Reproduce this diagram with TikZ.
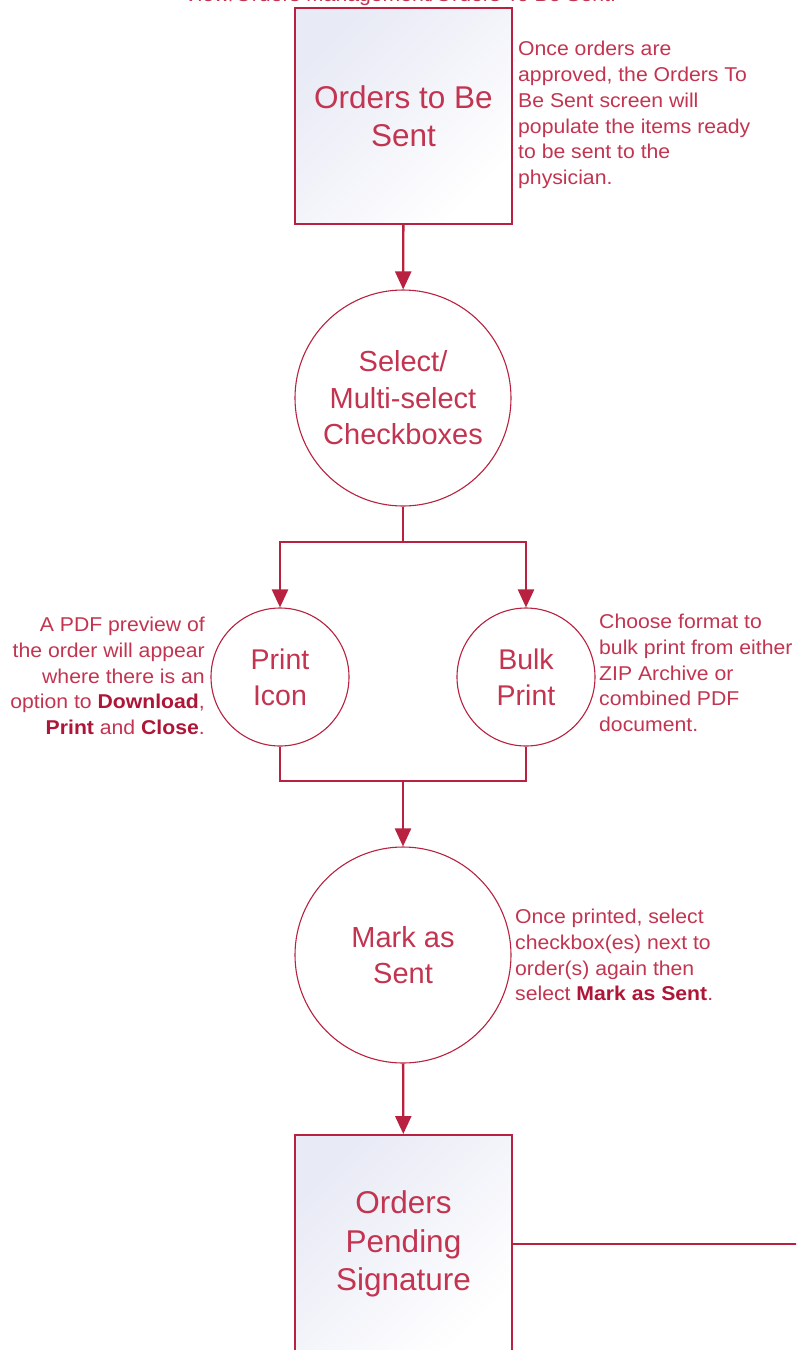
\documentclass[tikz,border=0pt]{standalone}
\usepackage{fontspec}
\setmainfont{Liberation Sans}
\newfontfamily\notefont[FakeStretch=1.06]{Liberation Sans}
\usetikzlibrary{arrows.meta}
\definecolor{crim}{HTML}{B8213F}
\definecolor{txt}{HTML}{C23450}
\definecolor{bld}{HTML}{AE1638}
\definecolor{lav}{HTML}{E8EAF5}
\tikzset{
  boxnode/.style={draw=crim,line width=2pt,minimum width=217pt,minimum height=216pt,inner sep=0pt,
    top color=lav,bottom color=white,shading angle=45,text=txt,align=center,
    font=\fontsize{31.5}{38.5}\selectfont},
  bigcirc/.style={draw=crim,line width=1.1pt,circle,minimum size=216pt,inner sep=0pt,fill=white,text=txt,align=center,
    font=\fontsize{29}{36.5}\selectfont},
  smallcirc/.style={draw=crim,line width=1.1pt,circle,minimum size=138pt,inner sep=0pt,fill=white,text=txt,align=center,
    font=\fontsize{28.5}{36}\selectfont},
  note/.style={text=txt,inner sep=0pt,font=\notefont\fontsize{20}{25.7}\selectfont},
  conn/.style={draw=crim,line width=2.4pt},
  arr/.style={conn,-{Triangle[length=18pt,width=16pt]}},
}
\newcommand{\hb}[1]{{\color{bld}\bfseries #1}}
\begin{document}
\begin{tikzpicture}[x=1pt,y=-1pt]
\useasboundingbox (0,0) rectangle (796,1350);
\clip (0,0) rectangle (796,1350);
\node[note,anchor=base] (title) at (400,1) {View/Orders Management/Orders To Be Sent.};
\node[boxnode] (box1) at (403.5,116) {Orders to Be\\Sent};
\node[bigcirc] (sel) at (403,398) {Select/\\Multi-select\\Checkboxes};
\node[smallcirc] (print) at (280,677) {Print\\Icon};
\node[smallcirc] (bulk) at (526,677) {Bulk\\Print};
\node[bigcirc] (mark) at (403,955) {Mark as\\Sent};
\node[boxnode,minimum height=218pt] (box2) at (403.5,1244) {Orders\\Pending\\Signature};
\coordinate (j1) at (403,542);
\coordinate (j2) at (403,781);
\coordinate (out) at (797,1244);
\draw[arr] (box1) -- (sel);
\draw[conn] (sel.south) -- (j1);
\draw[arr] (j1) -| (print.north);
\draw[arr] (j1) -| (bulk.north);
\draw[conn] (print.south) |- (j2);
\draw[conn] (bulk.south) |- (j2);
\draw[arr] (j2) -- (mark);
\draw[arr] (mark) -- (box2);
\draw[conn] (box2.east) -- (out);
\node[note,anchor=west,align=left] (n1) at (518,115) {Once orders are\\approved, the Orders To\\Be Sent screen will\\populate the items ready\\to be sent to the\\physician.};
\node[note,anchor=east,align=right] (n2) at (205,676) {A PDF preview of\\the order will appear\\where there is an\\option to \hb{Download},\\\hb{Print} and \hb{Close}.};
\node[note,anchor=west,align=left] (n3) at (599,673) {Choose format to\\bulk print from either\\ZIP Archive or\\combined PDF\\document.};
\node[note,anchor=west,align=left] (n4) at (515,955) {Once printed, select\\checkbox(es) next to\\order(s) again then\\select \hb{Mark as Sent}.};
\end{tikzpicture}
\end{document}
